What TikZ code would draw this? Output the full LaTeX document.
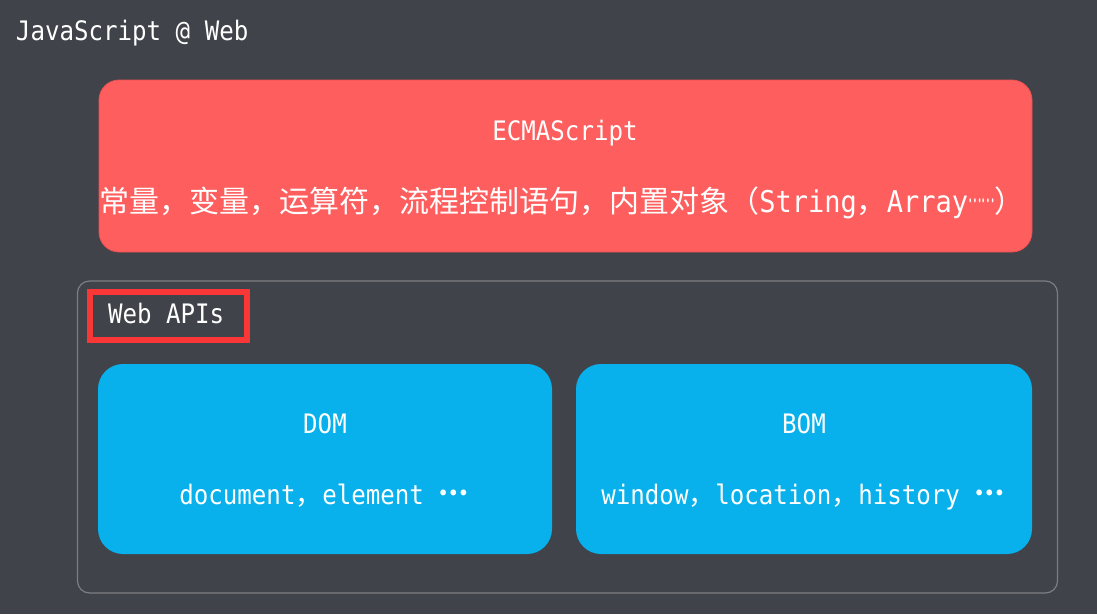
\documentclass[tikz,border=0pt]{standalone}
\usepackage{fontspec}
\newfontfamily\cjk{Noto Sans CJK SC}
\newfontfamily\mono[FakeStretch=0.9]{DejaVu Sans Mono}
\definecolor{bgc}{RGB}{64,67,74}
\definecolor{ecmac}{RGB}{255,94,94}
\definecolor{ecmaline}{RGB}{235,80,80}
\definecolor{bluec}{RGB}{8,177,235}
\definecolor{framec}{RGB}{125,126,130}
\definecolor{labelc}{RGB}{250,55,55}
\newcommand{\middots}{\raisebox{9pt}{\cjk\bfseries …}}
\tikzset{
  mtext/.style={text=white,inner sep=0pt,outer sep=0pt,font=\mono\fontsize{26.8}{30}\selectfont},
  ctext/.style={text=white,inner sep=0pt,outer sep=0pt,font=\fontsize{30}{34}\selectfont},
  ecmabox/.style={fill=ecmac,draw=ecmaline,line width=0.8pt,rounded corners=20pt,inner sep=0pt,outer sep=0pt,anchor=north west},
  apibox/.style={fill=bluec,rounded corners=25pt,inner sep=0pt,outer sep=0pt,anchor=north west},
  apiframe/.style={draw=framec,line width=1.2pt,rounded corners=12pt,inner sep=0pt,outer sep=0pt,anchor=north west},
  labelbox/.style={draw=labelc,line width=6pt,inner sep=0pt,outer sep=0pt,anchor=north west}
}
\begin{document}
\begin{tikzpicture}[x=1pt,y=-1pt]
\useasboundingbox (0,0) rectangle (1097,614);
\fill[bgc] (0,0) rectangle (1097,614);
% title
\node[mtext,anchor=base west] (title) at (16,40) {JavaScript @ Web};
% ECMAScript box
\node[ecmabox,minimum width=933pt,minimum height=172pt] (ecma) at (99,80) {};
\node[mtext,anchor=base] (ecmatitle) at (565,140) {ECMAScript};
\node[ctext,anchor=base] (ecmaline) at (562,212) {{\cjk 常量，变量，运算符，流程控制语句，内置对象（}{\mono String}{\cjk ，}{\mono Array}\scalebox{0.42}[1]{\raisebox{10pt}{\cjk ……}}{\cjk ）}};
% Web APIs frame
\node[apiframe,minimum width=980pt,minimum height=312pt] (apis) at (77.5,281) {};
\node[labelbox,minimum width=157pt,minimum height=48pt] (apilabelbox) at (90,292) {};
\node[mtext,anchor=base west] (apilabel) at (108,323) {Web APIs};
% DOM / BOM
\node[apibox,minimum width=454pt,minimum height=190pt] (dom) at (98,364) {};
\node[apibox,minimum width=456pt,minimum height=190pt] (bom) at (576,364) {};
\node[mtext,anchor=base] (domtitle) at (325,433) {DOM};
\node[mtext,anchor=base] (bomtitle) at (804,433) {BOM};
\node[mtext,anchor=base] (domline) at (324,504) {document{\cjk ，}element \middots};
\node[mtext,anchor=base] (bomline) at (803,504) {window{\cjk ，}location{\cjk ，}history \middots};
\end{tikzpicture}
\end{document}
